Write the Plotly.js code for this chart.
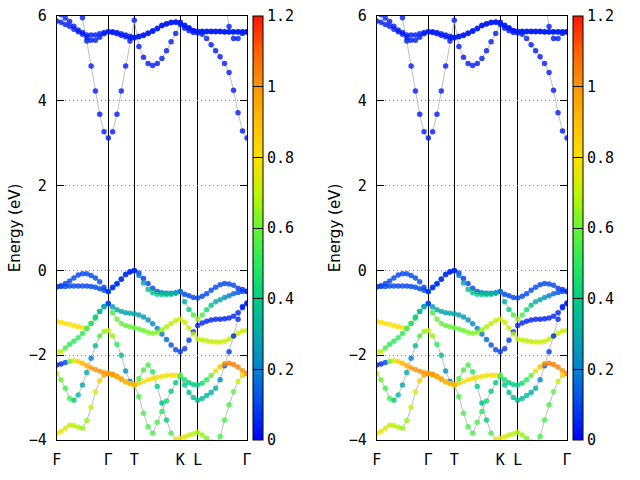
<!DOCTYPE html>
<html><head><meta charset="utf-8">
<script src="https://cdn.plot.ly/plotly-3.0.1.min.js"></script>
<style>html,body{margin:0;padding:0;background:#fff}#plot{width:640px;height:480px}</style>
</head><body><div id="plot"></div>
<script>
// k-path sampling (fraction of total path length): F-Γ-T-K-L-Γ
const kpts = [0.0000,0.0226,0.0452,0.0678,0.0904,0.1130,0.1356,0.1582,0.1808,0.2034,0.2260,0.2486,0.2712,
  0.2940,0.3167,0.3395,0.3623,0.3850,0.4078,
  0.4320,0.4562,0.4803,0.5045,0.5287,0.5529,0.5770,0.6012,0.6254,0.6495,
  0.6724,0.6952,0.7181,0.7409,
  0.7645,0.7880,0.8116,0.8351,0.8587,0.8822,0.9058,0.9293,0.9529,0.9764,1.0000];
const kTicks = [0.0, 0.2712, 0.4078, 0.6495, 0.7409, 1.0];
const kLabels = ['F', 'Γ', 'T', 'K', 'L', 'Γ'];

// Band energies (eV) at each k-point; null = outside the window
const c1E = [null,null,null,null,7.0,6.5, 5.96,5.41,4.82,4.23,3.68,3.27,3.12, 3.27,3.68,4.23,4.82,5.41,5.90,
  5.28,5.03,4.88,4.83,4.88,5.00,5.18,5.39,5.59,5.80, 5.71,5.65,5.61,5.60,
  5.57,5.47,5.32,5.18,5.04,4.88,4.67,4.25,3.72,3.29,3.12];
const c2E = [5.88,5.85,5.80,5.76,5.69,5.63,5.57,5.49,5.43,5.43,5.50,5.58,5.63, 5.61,5.58,5.54,5.51,5.48,5.48,
  5.51,5.54,5.59,5.64,5.70,5.77,5.81,5.84,5.85,5.84, 5.77,5.71,5.65,5.63,
  5.63,5.63,5.63,5.63,5.63,5.62,5.62,5.62,5.62,5.62,5.62];
const c3E = [6.15,6.03,5.95,5.87,5.76,5.67,5.61,5.55,5.55,5.55,5.58,5.61,5.63, 5.63,5.61,5.58,5.55,5.52,5.50,
  5.52,5.55,5.60,5.65,5.71,5.78,5.82,5.85,5.86,5.85, 5.78,5.72,5.66,5.64,
  5.64,5.64,5.64,5.64,5.64,5.63,5.63,5.63,5.63,5.63,5.63];
const c4E = [null,null,null,null,null,null,null,null,null,null,null,null,null, null,null,null,null,null,null,
  null,null,null,null,null,null,null,null,null,null, null,null,null,null,
  null,null,null,null,null,6.40,5.75,5.47,5.47,5.59,5.63];
const cW = [0.04,0.04,0.04,0.04,0.04,0.04,0.04,0.04,0.04,0.04,0.04,0.04,0.04, 0.04,0.04,0.04,0.04,0.04,0.04,
  0.04,0.04,0.04,0.04,0.04,0.04,0.04,0.04,0.04,0.04, 0.04,0.04,0.04,0.04,
  0.04,0.04,0.04,0.04,0.04,0.04,0.04,0.04,0.04,0.04,0.04];

const v1E = [-0.38,-0.36,-0.31,-0.25,-0.18,-0.11,-0.08,-0.08,-0.12,-0.18,-0.27,-0.40,-0.50, -0.40,-0.31,-0.20,-0.09,-0.03,0.00,
  -0.06,-0.19,-0.31,-0.42,-0.50,-0.53,-0.54,-0.54,-0.53,-0.50, -0.56,-0.60,-0.64,-0.65,
  -0.61,-0.55,-0.47,-0.40,-0.34,-0.31,-0.32,-0.35,-0.42,-0.45,-0.49];
const v1W = [0.10,0.10,0.10,0.10,0.10,0.10,0.10,0.10,0.10,0.10,0.10,0.10,0.08, 0.08,0.08,0.08,0.08,0.06,0.06,
  0.08,0.08,0.10,0.10,0.12,0.15,0.15,0.15,0.15,0.10, 0.10,0.10,0.10,0.10,
  0.10,0.10,0.10,0.10,0.10,0.10,0.10,0.10,0.08,0.06,0.05];
const v2E = [-0.39,-0.38,-0.38,-0.37,-0.37,-0.37,-0.37,-0.37,-0.38,-0.40,-0.43,-0.47,-0.50, -0.41,-0.32,-0.21,-0.10,-0.04,0.00,
  -0.12,-0.30,-0.45,-0.53,-0.56,-0.57,-0.57,-0.56,-0.54,-0.50, -0.74,-0.92,-1.05,-1.15,
  -1.05,-0.93,-0.82,-0.74,-0.69,-0.64,-0.60,-0.55,-0.52,-0.50,-0.50];
const v2W = [0.10,0.10,0.10,0.10,0.10,0.10,0.10,0.10,0.10,0.10,0.10,0.10,0.08, 0.08,0.08,0.08,0.08,0.06,0.06,
  0.20,0.30,0.35,0.38,0.40,0.40,0.40,0.38,0.35,0.20, 0.30,0.40,0.55,0.65,
  0.55,0.45,0.38,0.32,0.28,0.24,0.20,0.15,0.12,0.10,0.08];
const v3E = [-1.20,-1.22,-1.25,-1.27,-1.30,-1.33,-1.35,-1.37,-1.25,-1.13,-0.97,-0.85,-0.78, -0.86,-0.93,-0.97,-1.00,-1.01,-1.02,
  -1.05,-1.10,-1.17,-1.26,-1.37,-1.50,-1.63,-1.76,-1.87,-1.92, -1.85,-1.65,-1.45,-1.30,
  -1.24,-1.20,-1.17,-1.15,-1.15,-1.14,-1.12,-1.08,-1.00,-0.88,-0.78];
const v3W = [0.80,0.80,0.80,0.80,0.80,0.80,0.80,0.78,0.60,0.50,0.40,0.30,0.10, 0.25,0.30,0.30,0.30,0.30,0.30,
  0.28,0.26,0.24,0.22,0.20,0.18,0.15,0.12,0.10,0.08, 0.08,0.08,0.06,0.05,
  0.05,0.05,0.05,0.05,0.05,0.05,0.05,0.05,0.05,0.05,0.05];
const v4E = [-1.92,-1.92,-1.83,-1.74,-1.67,-1.59,-1.49,-1.37,-1.25,-1.10,-0.97,-0.86,-0.78, -1.00,-1.15,-1.25,-1.30,-1.33,-1.35,
  -1.38,-1.42,-1.46,-1.48,-1.46,-1.40,-1.33,-1.25,-1.18,-1.15, -1.22,-1.36,-1.50,-1.62,
  -1.64,-1.66,-1.68,-1.69,-1.69,-1.67,-1.62,-1.55,-1.48,-1.43,-1.42];
const v4W = [0.75,0.70,0.55,0.50,0.50,0.50,0.50,0.50,0.45,0.40,0.35,0.30,0.10, 0.55,0.60,0.60,0.60,0.60,0.60,
  0.60,0.60,0.62,0.62,0.64,0.66,0.68,0.70,0.72,0.75, 0.72,0.70,0.70,0.70,
  0.70,0.70,0.72,0.72,0.72,0.72,0.72,0.72,0.72,0.72,0.72];
const v5E = [-2.43,-2.58,-2.78,-3.02,-3.06,-2.94,-2.70,-2.41,-2.07,-1.78,-1.55,-1.44,-1.42, -1.55,-1.75,-2.00,-2.37,-2.62,-2.70,
  -2.98,-3.37,-3.69,-3.84,-3.58,-3.33,-3.08,-2.85,-2.65,-2.50, -2.70,-2.88,-3.00,-3.06,
  -3.02,-2.95,-2.88,-2.78,-2.58,-2.25,-1.92,-1.55,-1.15,-0.85,-0.77];
const v5W = [0.85,0.60,0.55,0.55,0.40,0.35,0.30,0.30,0.20,0.35,0.55,0.65,0.70, 0.65,0.50,0.35,0.25,0.15,0.30,
  0.55,0.55,0.55,0.55,0.55,0.50,0.45,0.40,0.40,0.40, 0.40,0.38,0.35,0.35,
  0.35,0.35,0.32,0.30,0.20,0.12,0.08,0.06,0.05,0.05,0.05];
const v6E = [-2.23,-2.21,-2.17,-2.14,-2.13,-2.15,-2.19,-2.25,-2.30,-2.34,-2.38,-2.41,-2.43, -2.46,-2.51,-2.57,-2.63,-2.67,-2.70,
  -2.66,-2.62,-2.58,-2.55,-2.52,-2.50,-2.48,-2.47,-2.47,-2.47, -2.58,-2.65,-2.69,-2.70,
  -2.66,-2.58,-2.48,-2.37,-2.27,-2.20,-2.19,-2.22,-2.28,-2.36,-2.43];
const v6W = [0.05,0.05,0.10,0.60,0.75,0.85,0.90,0.95,1.00,1.00,1.00,1.00,1.00, 1.00,1.00,0.95,0.95,0.90,0.90,
  0.85,0.80,0.80,0.78,0.78,0.78,0.78,0.80,0.80,0.60, 0.45,0.40,0.40,0.40,
  0.45,0.50,0.60,0.75,0.90,1.00,1.05,1.05,1.05,1.00,1.00];
const v7E = [-3.84,-3.80,-3.72,-3.65,-3.66,-3.70,-3.72,-3.54,-3.23,-2.87,-2.60,-2.47,-2.43, -2.45,-2.50,-2.56,-2.62,-2.67,-2.70,
  -2.55,-2.35,-2.23,-2.39,-2.74,-3.13,-3.53,-3.84,-3.98,-3.97, -3.93,-3.88,-3.85,-3.82,
  -3.88,-3.96,-4.05,-4.10,-3.92,-3.53,-3.17,-2.86,-2.62,-2.48,-2.43];
const v7W = [0.80,0.80,0.75,0.70,0.70,0.70,0.65,0.65,0.70,0.75,0.85,0.95,1.00, 1.00,0.95,0.95,0.90,0.90,0.90,
  0.55,0.55,0.55,0.50,0.40,0.35,0.40,0.55,0.75,0.80, 0.75,0.72,0.70,0.68,
  0.65,0.62,0.60,0.60,0.55,0.55,0.55,0.60,0.70,0.85,1.00];

const bands = [
  [c1E, cW], [c2E, cW], [c3E, cW], [c4E, cW],
  [v1E, v1W], [v2E, v2W], [v3E, v3W], [v4E, v4W], [v5E, v5W], [v6E, v6W], [v7E, v7W]
];

// weight colour map, 0 -> 1.2
const palette = [
  [0.000, 'rgb(0,0,255)'], [0.083, 'rgb(0,70,240)'], [0.167, 'rgb(0,130,210)'],
  [0.250, 'rgb(0,170,170)'], [0.333, 'rgb(0,205,130)'], [0.417, 'rgb(40,235,90)'],
  [0.500, 'rgb(100,245,50)'], [0.583, 'rgb(190,245,0)'], [0.667, 'rgb(255,225,0)'],
  [0.750, 'rgb(255,190,0)'], [0.833, 'rgb(255,150,0)'], [0.917, 'rgb(255,95,0)'],
  [1.000, 'rgb(255,20,0)']
];

const W = 640, H = 480;
const panels = [
  {xa: 'x', ya: 'y', ca: 'coloraxis', left: 56.7, right: 247, cbx: 252.5},
  {xa: 'x2', ya: 'y2', ca: 'coloraxis2', left: 376.7, right: 567, cbx: 572.5}
];
const plotTop = 16, plotBottom = 440;

const traces = [];
panels.forEach(p => {
  // connecting lines first, points on top
  bands.forEach(([E]) => {
    traces.push({type: 'scatter', mode: 'lines', x: kpts, y: E, xaxis: p.xa, yaxis: p.ya,
      line: {color: 'rgb(190,190,190)', width: 1}, hoverinfo: 'skip', showlegend: false});
  });
  const xs = [], ys = [], ws = [];
  bands.forEach(([E, w]) => {
    E.forEach((e, i) => { if (e !== null) { xs.push(kpts[i]); ys.push(e); ws.push(w[i]); } });
  });
  traces.push({type: 'scatter', mode: 'markers', x: xs, y: ys, xaxis: p.xa, yaxis: p.ya,
    marker: {size: 5.5, color: ws, coloraxis: p.ca, opacity: 0.8, line: {width: 0}}, showlegend: false});
});

const tickFont = {family: 'DejaVu Sans Mono', size: 15, color: '#000'};
function xaxis(p) {
  return {domain: [p.left / W, p.right / W], range: [0, 1], tickvals: kTicks, ticktext: kLabels,
    ticks: '', showgrid: true, gridcolor: '#000', gridwidth: 1, zeroline: false,
    showline: true, linecolor: '#000', linewidth: 1, mirror: true, tickfont: tickFont,
    ticklabelstandoff: 6, anchor: p.ya, fixedrange: true};
}
function yaxis(p) {
  return {domain: [(H - plotBottom) / H, (H - plotTop) / H], range: [-4, 6], dtick: 2, tick0: 0,
    ticks: 'inside', ticklen: 7, tickcolor: '#000', showgrid: true, gridcolor: 'rgb(150,150,150)',
    griddash: '1px,3px', zeroline: false, showline: true, linecolor: '#000', linewidth: 1,
    mirror: 'ticks', tickfont: tickFont, ticklabelstandoff: 6, anchor: p.xa,
    title: {text: 'Energy (eV)', font: {family: 'DejaVu Sans', size: 15, color: '#000'}, standoff: 4}};
}
function cax(p) {
  return {cmin: 0, cmax: 1.2, colorscale: palette,
    colorbar: {x: p.cbx / W, xanchor: 'left', y: ((H - plotBottom) + (H - plotTop)) / 2 / H, yanchor: 'middle',
      len: (plotBottom - plotTop) / H, lenmode: 'fraction', thickness: 10, thicknessmode: 'pixels',
      xpad: 0, ypad: 0, outlinecolor: '#000', outlinewidth: 1, ticks: 'inside', ticklen: 10,
      tickcolor: '#000', tickwidth: 1, tickvals: [0, 0.2, 0.4, 0.6, 0.8, 1.0, 1.2],
      tickprefix: '\u00a0', tickfont: tickFont}};
}

const layout = {
  width: W, height: H, margin: {l: 0, r: 0, t: 0, b: 0}, paper_bgcolor: '#fff', plot_bgcolor: '#fff',
  showlegend: false,
  xaxis: xaxis(panels[0]), yaxis: yaxis(panels[0]),
  xaxis2: xaxis(panels[1]), yaxis2: yaxis(panels[1]),
  coloraxis: cax(panels[0]), coloraxis2: cax(panels[1])
};

Plotly.newPlot('plot', traces, layout, {staticPlot: true});
</script></body></html>
